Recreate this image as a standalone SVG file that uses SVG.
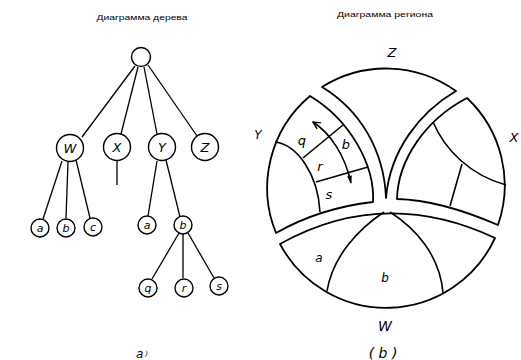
<svg xmlns="http://www.w3.org/2000/svg" width="521" height="360" viewBox="0 0 521 360">
<style>
.bg{fill:#fff}
.node circle{fill:#fff;stroke:#000;stroke-width:1.4}
.edge{stroke:#000;stroke-width:1.3;fill:none}
.reg{fill:none;stroke:#000;stroke-width:1.8;stroke-linejoin:round}
.div{fill:none;stroke:#000;stroke-width:1.6}
.lab{font-family:"DejaVu Sans","Liberation Sans",sans-serif;font-style:italic;fill:#000;text-anchor:middle}
.t{font-family:"Liberation Sans","DejaVu Sans",sans-serif;font-size:8px;fill:#000;text-anchor:middle}
</style>
<defs>
<marker id="ahOpen" viewBox="0 0 10 10" refX="9" refY="5" markerWidth="9" markerHeight="9" markerUnits="userSpaceOnUse" orient="auto-start-reverse">
<path d="M1,1 L9,5 L1,9" fill="none" stroke="#000" stroke-width="1.6"/>
</marker>
<marker id="ahFill" viewBox="0 0 10 10" refX="9" refY="5" markerWidth="10" markerHeight="8" markerUnits="userSpaceOnUse" orient="auto">
<path d="M0,2 L10,5 L0,8 Z" fill="#000"/>
</marker>
</defs>
<rect class="bg" width="521" height="360"/>
<text class="t" x="142" y="20" textLength="91" lengthAdjust="spacingAndGlyphs">Диаграмма дерева</text>
<text class="t" x="385" y="17" textLength="96" lengthAdjust="spacingAndGlyphs">Диаграмма региона</text>

<g id="tree-edges">
<line class="edge" x1="135" y1="66" x2="82" y2="137"/>
<line class="edge" x1="138" y1="67" x2="121" y2="134"/>
<line class="edge" x1="144" y1="67" x2="157" y2="134"/>
<line class="edge" x1="148" y1="65" x2="197" y2="136"/>
<line class="edge" x1="62" y1="161" x2="43" y2="219"/>
<line class="edge" x1="68" y1="162" x2="66" y2="218"/>
<line class="edge" x1="76" y1="160" x2="90" y2="218"/>
<line class="edge" x1="117" y1="161" x2="117" y2="185"/>
<line class="edge" x1="157" y1="161" x2="148" y2="216"/>
<line class="edge" x1="166" y1="160" x2="180" y2="217"/>
<line class="edge" x1="179" y1="233" x2="152" y2="279"/>
<line class="edge" x1="183" y1="234" x2="183" y2="278"/>
<line class="edge" x1="188" y1="233" x2="214" y2="278"/>
</g>

<g id="root" class="node"><circle cx="141" cy="57" r="9.5"/></g>
<g id="tW" class="node"><circle cx="70" cy="148" r="13.5"/><text class="lab" x="70" y="153" font-size="13">W</text></g>
<g id="tX" class="node"><circle cx="117" cy="147" r="13.5"/><text class="lab" x="117" y="152" font-size="13">X</text></g>
<g id="tY" class="node"><circle cx="162" cy="147" r="13.5"/><text class="lab" x="162" y="152" font-size="13">Y</text></g>
<g id="tZ" class="node"><circle cx="205" cy="147" r="13.5"/><text class="lab" x="205" y="152" font-size="13">Z</text></g>
<g id="tWa" class="node"><circle cx="40" cy="228" r="9"/><text class="lab" x="40" y="232" font-size="11">a</text></g>
<g id="tWb" class="node"><circle cx="66" cy="228" r="9"/><text class="lab" x="66" y="232" font-size="11">b</text></g>
<g id="tWc" class="node"><circle cx="93" cy="227" r="9"/><text class="lab" x="93" y="231" font-size="11">c</text></g>
<g id="tYa" class="node"><circle cx="147" cy="225" r="9"/><text class="lab" x="147" y="229" font-size="11">a</text></g>
<g id="tYb" class="node"><circle cx="183" cy="225" r="9"/><text class="lab" x="183" y="229" font-size="11">b</text></g>
<g id="tq" class="node"><circle cx="148" cy="288" r="9"/><text class="lab" x="148" y="292" font-size="11">q</text></g>
<g id="tr" class="node"><circle cx="184" cy="288" r="9"/><text class="lab" x="184" y="292" font-size="11">r</text></g>
<g id="ts" class="node"><circle cx="219" cy="286" r="9"/><text class="lab" x="219" y="290" font-size="11">s</text></g>
<text class="lab" x="142" y="358" font-size="12">a<tspan font-size="7" dx="2" dy="-2">)</tspan></text>

<g id="regionZ">
<path class="reg" d="M322,87 A120,120 0 0 1 456,91 C420,112 390,150 386,198 C384,150 360,110 322,87 Z"/>
<text class="lab" x="392" y="57" font-size="13">Z</text>
</g>
<g id="regionY">
<path class="reg" d="M310,96 A120,120 0 0 0 276,233 Q320,208 373,202 C375,165 350,120 310,96 Z"/>
<path class="div" d="M275,142 C298,145 318,175 320,212"/>
<line class="div" x1="303" y1="158" x2="343" y2="125"/>
<line class="div" x1="316" y1="182" x2="368" y2="167"/>
<path class="div" d="M313,122 C330,133 345,155 351,183" stroke-width="1.3" marker-start="url(#ahOpen)" marker-end="url(#ahFill)"/>
<text class="lab" x="302" y="145" font-size="13">q</text>
<text class="lab" x="346" y="149" font-size="13">b</text>
<text class="lab" x="320" y="171" font-size="13">r</text>
<text class="lab" x="329" y="199" font-size="13">s</text>
<text class="lab" x="258" y="139" font-size="12">Y</text>
</g>
<g id="regionX">
<path class="reg" d="M467,98 A120,120 0 0 1 498,225 Q440,200 397,199 C398,160 425,120 467,98 Z"/>
<path class="div" d="M433,122 C445,150 470,175 506,185"/>
<line class="div" x1="462" y1="164" x2="450" y2="206"/>
<text class="lab" x="514" y="142" font-size="13">X</text>
</g>
<g id="regionW">
<path class="reg" d="M280,244 Q384,186 495,238 A120,120 0 0 1 280,244 Z"/>
<path class="div" d="M384,212 C360,228 333,255 327,291"/>
<path class="div" d="M390,212 C415,228 440,255 443,293"/>
<text class="lab" x="319" y="262" font-size="12">a</text>
<text class="lab" x="385" y="282" font-size="12">b</text>
<text class="lab" x="385" y="331" font-size="14" font-style="normal">W</text>
</g>
<text class="lab" x="383" y="358" font-size="14">( b )</text>
</svg>
